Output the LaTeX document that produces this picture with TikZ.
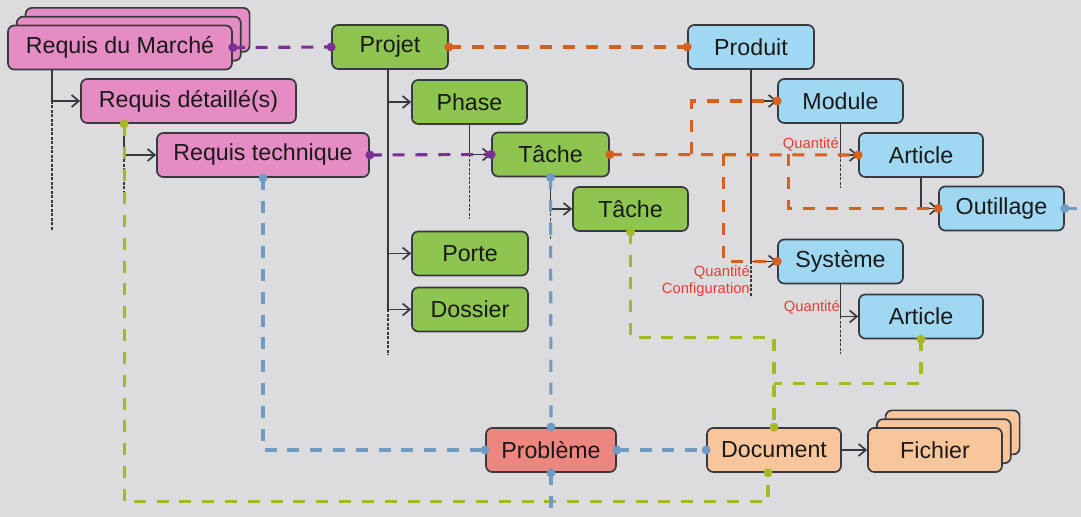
\documentclass[tikz,border=0pt]{standalone}
\usepackage{fontspec}
\setmainfont{Liberation Sans}
\usetikzlibrary{arrows.meta,calc,shadows}

\definecolor{bgcol}{RGB}{220,220,222}
\definecolor{reqpink}{RGB}{230,140,196}
\definecolor{projgreen}{RGB}{142,196,80}
\definecolor{prodblue}{RGB}{160,216,242}
\definecolor{probred}{RGB}{238,134,128}
\definecolor{docorange}{RGB}{249,198,156}
\definecolor{boxline}{RGB}{55,57,62}
\definecolor{linkpurple}{RGB}{120,50,150}
\definecolor{linkorange}{RGB}{214,96,30}
\definecolor{linkgreen}{RGB}{166,184,40}
\definecolor{linkblue}{RGB}{112,156,196}
\definecolor{qtyred}{RGB}{232,60,50}

\begin{document}
\begin{tikzpicture}[
  x=0.025cm, y=-0.025cm,
  every node/.style={font=\fontsize{16.5}{19}\selectfont, text=black!90},
  box/.style={draw=boxline, line width=1.2pt, rounded corners=4.5pt,
              minimum height=1.1cm, inner sep=0pt},
  req/.style={box, fill=reqpink},
  proj/.style={box, fill=projgreen},
  prod/.style={box, fill=prodblue},
  docbox/.style={box, fill=docorange},
  stacked/.style={double copy shadow={shadow xshift=0.22cm, shadow yshift=0.22cm}},
  treearr/.style={draw=boxline, line width=1.2pt,
                  -{Straight Barb[length=1.8mm,width=3mm]}},
  treeend/.style={draw=boxline, line width=1.1pt, dash pattern=on 1.8pt off 1.4pt},
  link/.style={line width=2.2pt, dash pattern=on 0.3cm off 0.27cm},
  qty/.style={font=\fontsize{10.5}{12.5}\selectfont, text=qtyred,
              align=right, anchor=east, inner sep=0pt},
]
  \useasboundingbox (0,0) rectangle (1081,517);
  \fill[bgcol] (0,0) rectangle (1081,517);

  % requirements
  \node[req, stacked, minimum width=5.6cm] (rdm) at (120,47.5) {Requis du Marché};
  \node[req, minimum width=5.375cm] (rdd) at (188.5,101) {Requis détaillé(s)};
  \node[req, minimum width=5.3cm] (rt) at (263,155) {Requis technique};

  % project
  \node[proj, minimum width=2.9cm] (projet) at (390,47) {Projet};
  \node[proj, minimum width=2.875cm] (phase) at (469.5,102) {Phase};
  \node[proj, minimum width=2.925cm] (tache1) at (550.5,154.5) {Tâche};
  \node[proj, minimum width=2.875cm] (tache2) at (630.5,209) {Tâche};
  \node[proj, minimum width=2.9cm] (porte) at (470,253.5) {Porte};
  \node[proj, minimum width=2.9cm] (dossier) at (470,309.5) {Dossier};

  % product
  \node[prod, minimum width=3.15cm] (produit) at (751,47) {Produit};
  \node[prod, minimum width=3.125cm] (module) at (840.5,101) {Module};
  \node[prod, minimum width=3.1cm] (art1) at (921,155) {Article};
  \node[prod, minimum width=3.125cm] (outil) at (1001.5,208.5) {Outillage};
  \node[prod, minimum width=3.125cm] (sys) at (840.5,261.5) {Système};
  \node[prod, minimum width=3.1cm] (art2) at (921,316.5) {Article};

  % problem and documents
  \node[box, fill=probred, minimum width=3.25cm] (prob) at (551,450) {Problème};
  \node[docbox, minimum width=3.35cm] (doc) at (774,450) {Document};
  \node[docbox, stacked, minimum width=3.35cm] (fichier) at (935,450) {Fichier};

  % hierarchy
  \draw[treearr] ($(rdm.south west)+(45,0)$) |- (rdd.west);
  \draw[treeend] ($(rdd.west)+(-28,0)$) -- ++(0,129);
  \draw[treearr] ($(rdd.south west)+(44,0)$) |- (rt.west);
  \draw[treeend] ($(rt.west)+(-32,0)$) -- ++(0,40);
  \draw[treearr] ($(projet.south west)+(57,0)$) |- (phase.west);
  \draw[treearr] ($(projet.south west)+(57,0)$) |- (porte.west);
  \draw[treearr] ($(projet.south west)+(57,0)$) |- (dossier.west);
  \draw[treeend] ($(dossier.west)+(-23,0)$) -- ++(0,46);
  \draw[treearr] (phase.south) |- (tache1.west);
  \draw[treeend] (phase.south |- tache1.west) -- ++(0,65);
  \draw[treearr] (tache1.south) |- (tache2.west);
  \draw[treeend] (tache1.south |- tache2.west) -- ++(0,31);
  \draw[treearr] (produit.south) |- (module.west);
  \draw[treearr] (produit.south) |- (sys.west);
  \draw[treeend] (produit.south |- sys.west) -- ++(0,36);
  \draw[treearr] (module.south) |- (art1.west);
  \draw[treeend] (module.south |- art1.west) -- ++(0,33);
  \draw[treearr] (art1.south) |- (outil.west);
  \draw[treearr] (sys.south) |- (art2.west);
  \draw[treeend] (sys.south |- art2.west) -- ++(0,38);

  % links
  \draw[link, linkpurple] (rdm.east) -- (projet.west);
  \draw[link, linkpurple] (rt.east) -- (tache1.west);

  \draw[link, linkorange] (projet.east) -- (produit.west);
  \draw[link, linkorange] (tache1.east) -- (art1.west);
  \draw[link, linkorange] ($(tache1.east)+(82,0)$) |- (module.west);
  \draw[link, linkorange] ($(tache1.east)+(114,0)$) |- (sys.west);
  \draw[link, linkorange] ($(tache1.east)+(179,0)$) |- (outil.west);

  \draw[link, linkgreen] ($(rdd.south west)+(44,0)$) -- ++(0,378) -| ($(doc.south)+(-6,0)$);
  \draw[link, linkgreen] (tache2.south) -- ++(0,106) -| (doc.north);
  \draw[link, linkgreen] (art2.south) |- ($(doc.north)+(0,-44)$);

  \draw[link, linkblue] (rt.south) |- (prob.west);
  \draw[link, linkblue] (tache1.south) -- (prob.north);
  \draw[link, linkblue] (prob.east) -- (doc.west);
  \draw[link, linkblue] (prob.south) -- ++(0,44);
  \draw[link, linkblue] (outil.east) -- ++(17,0);

  % end dots
  \foreach \p in {rdm.east, projet.west, rt.east, tache1.west}
    \fill[linkpurple] (\p) circle (4.5);
  \foreach \p in {projet.east, produit.west, tache1.east, art1.west,
                  module.west, sys.west, outil.west}
    \fill[linkorange] (\p) circle (4.5);
  \foreach \p in {tache2.south, doc.north, art2.south}
    \fill[linkgreen] (\p) circle (4.5);
  \fill[linkgreen] ($(rdd.south west)+(44,0)$) circle (4.5);
  \fill[linkgreen] ($(doc.south)+(-6,0)$) circle (4.5);
  \foreach \p in {rt.south, tache1.south, prob.north, prob.west, prob.east,
                  prob.south, doc.west, outil.east}
    \fill[linkblue] (\p) circle (4.5);

  % quantities
  \node[qty] (qty1) at (839,144) {Quantité};
  \node[qty] (qty2) at (840,307) {Quantité};
  \node[qty] (qtycfg) at (750,281) {Quantité\\Configuration};

  % document to file
  \draw[treearr] (doc.east) -- (fichier.west);
\end{tikzpicture}
\end{document}
